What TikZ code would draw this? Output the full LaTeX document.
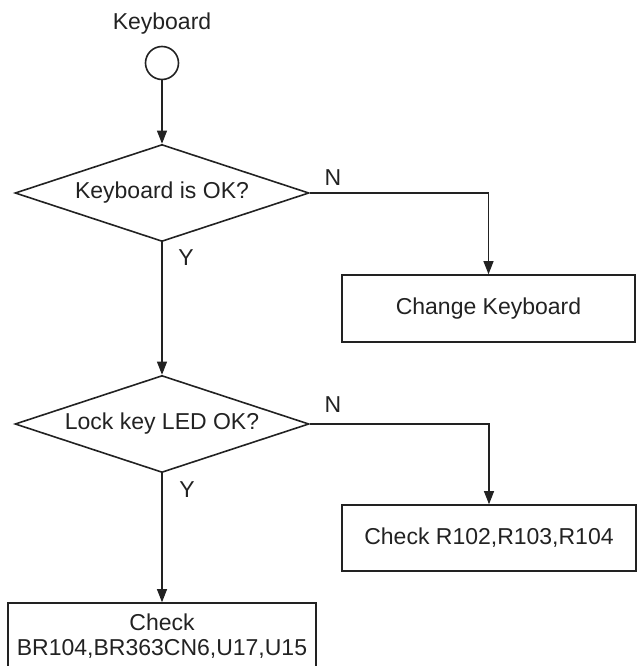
\documentclass[tikz,border=0pt]{standalone}
\usepackage{fontspec}
\setmainfont{Liberation Sans}
\usetikzlibrary{shapes.geometric,arrows.meta}
\definecolor{ink}{HTML}{222222}
\begin{document}
\begin{tikzpicture}[x=1pt,y=-1pt,
  every node/.style={font=\fontsize{23}{27}\selectfont, text=ink},
  shp/.style={draw=ink, line width=1.6pt},
  dec/.style={shp, diamond, aspect=3.03, inner sep=0pt, minimum width=294pt, minimum height=97pt},
  boxy/.style={shp, rectangle, inner sep=0pt, align=center},
  conn/.style={draw=ink, line width=1.1pt, -{Triangle[length=13pt,width=10pt]}},
  lbl/.style={inner sep=0pt}]
\clip (0,0) rectangle (637,666);
\useasboundingbox (0,0) rectangle (637,666);
\node[lbl] (title) at (162,24) {Keyboard};
\node[shp, circle, minimum size=33pt, inner sep=0pt] (start) at (162,63) {};
\node[dec] (d1) at (162,193) {Keyboard is OK?};
\node[boxy, minimum width=293pt, minimum height=67pt] (b1) at (488.5,308.5) {Change Keyboard};
\node[dec] (d2) at (162,424) {Lock key LED OK?};
\node[boxy, minimum width=294pt, minimum height=66pt] (b2) at (489,538) {Check R102,R103,R104};
\node[boxy, minimum width=308pt, minimum height=67pt] (b3) at (162,636.5) {Check\\[-2pt]BR104,BR363CN6,U17,U15};
\node[lbl] (n1) at (333,178) {N};
\node[lbl] (y1) at (186,258) {Y};
\node[lbl] (n2) at (333,405) {N};
\node[lbl] (y2) at (187,490) {Y};
\draw[conn] (start) -- (d1);
\draw[conn] (d1.east) -| (b1.north);
\draw[conn] (d1) -- (d2);
\draw[conn] (d2.east) -| (b2.north);
\draw[conn] (d2) -- (b3);
\end{tikzpicture}
\end{document}
